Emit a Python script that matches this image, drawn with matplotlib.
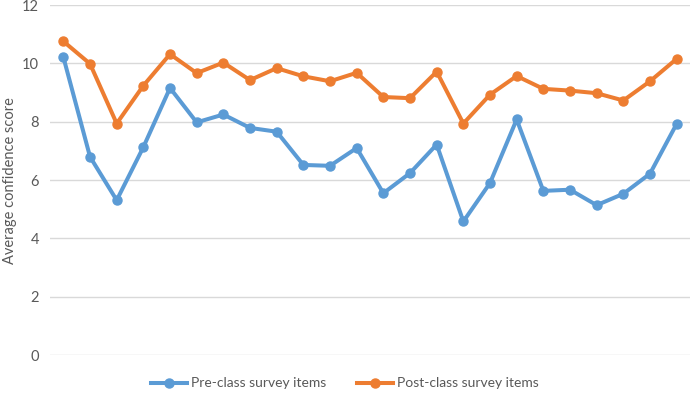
import numpy as np
import matplotlib
matplotlib.use("Agg")
from matplotlib import pyplot as plt

# values
items = np.arange(1, 25)
pre_class = [10.22, 6.80, 5.31, 7.13, 9.16, 7.98, 8.25, 7.79, 7.66, 6.52,
             6.49, 7.10, 5.55, 6.24, 7.22, 4.58, 5.90, 8.08, 5.63, 5.67,
             5.14, 5.53, 6.22, 7.93]
post_class = [10.76, 9.99, 7.94, 9.24, 10.32, 9.67, 10.03, 9.43, 9.84, 9.56,
              9.39, 9.68, 8.85, 8.81, 9.72, 7.94, 8.93, 9.57, 9.13, 9.07,
              8.98, 8.73, 9.39, 10.16]
y_ticks = [0, 2, 4, 6, 8, 10, 12]

plt.rcParams['font.family'] = ['Lato', 'DejaVu Sans']
txt = '#595959'

fig = plt.figure(figsize=(6.9, 3.98), dpi=100)
ax = fig.add_axes([0.0725, 0.108, 0.9275, 0.879])

ax.plot(items, pre_class, color='#5B9BD5', lw=2.9, marker='o', ms=6.5,
        label='Pre-class survey items', solid_joinstyle='round')
ax.plot(items, post_class, color='#ED7D31', lw=2.9, marker='o', ms=6.5,
        label='Post-class survey items', solid_joinstyle='round')

ax.set_xlim(0.5, 24.5)
ax.set_ylim(0, 12)
ax.set_yticks(y_ticks)
ax.set_xticks([])
ax.yaxis.grid(True, color='#D9D9D9', lw=1)
ax.set_axisbelow(True)
for s in ax.spines.values():
    s.set_visible(False)
ax.tick_params(axis='y', length=0, labelsize=10.5, labelcolor=txt, pad=8)
ax.set_ylabel('Average confidence score', fontsize=10.5, color=txt)
ax.yaxis.set_label_coords(-0.052, 0.5)

fig.legend(loc='lower center', bbox_to_anchor=(0.5, -0.01), ncol=2,
           frameon=False, fontsize=10, labelcolor=txt, handlelength=2.6,
           handletextpad=0.3, columnspacing=2.2)

fig.savefig('out.png', dpi=100)
